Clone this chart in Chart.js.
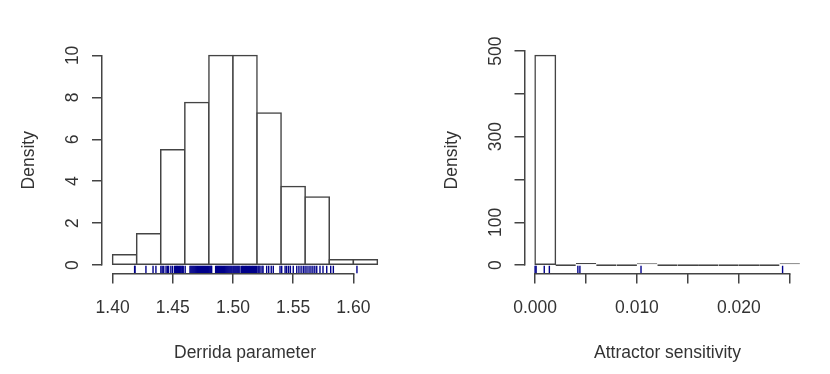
<!DOCTYPE html>
<html><head><meta charset="utf-8">
<script src="https://cdn.jsdelivr.net/npm/chart.js@4.4.1/dist/chart.umd.min.js"></script>
<style>
html,body{margin:0;padding:0;background:#fff;}
#wrap{position:relative;width:830px;height:374px;overflow:hidden;background:#fff;}
canvas{position:absolute;top:0;}
</style></head><body>
<div id="wrap">
<canvas id="c1" width="415" height="374" style="left:0"></canvas>
<canvas id="c2" width="415" height="374" style="left:415px"></canvas>
</div>
<script>
// ---------- Left panel: Derrida parameter ----------
const derridaBinMids = [1.41, 1.43, 1.45, 1.47, 1.49, 1.51, 1.53, 1.55, 1.57, 1.59, 1.61];
const derridaDensity = [0.5, 1.5, 5.5, 7.75, 10, 10, 7.25, 3.75, 3.25, 0.25, 0.25];
const derridaRug = [
  1.4183, 1.4186, 1.4277, 1.4336, 1.4360, 1.4401, 1.4412, 1.4425, 1.4444, 1.4456, 1.4465, 1.4484, 1.4498,
  1.4515, 1.4523, 1.4531, 1.4538, 1.4546, 1.4555, 1.4562, 1.4570, 1.4579, 1.4587,
  1.4603,
  1.4643, 1.4651, 1.4659, 1.4667, 1.4675, 1.4683, 1.4691, 1.4699, 1.4707, 1.4715, 1.4723, 1.4731,
  1.4739, 1.4747, 1.4755, 1.4763, 1.4771, 1.4779, 1.4787, 1.4795, 1.4803, 1.4811, 1.4818, 1.4823,
  1.4856, 1.4864, 1.4872, 1.4880, 1.4888, 1.4896, 1.4904, 1.4912, 1.4920, 1.4928, 1.4936, 1.4944,
  1.4952, 1.4960, 1.4968, 1.4976, 1.4984, 1.4992, 1.5001, 1.5009, 1.5017, 1.5025, 1.5033, 1.5041,
  1.5049, 1.5058,
  1.5072, 1.5080, 1.5088, 1.5097, 1.5105, 1.5113, 1.5121, 1.5130, 1.5138, 1.5146, 1.5155, 1.5163,
  1.5171, 1.5180, 1.5188, 1.5197,
  1.5208, 1.5216, 1.5225, 1.5241, 1.5250,
  1.5280, 1.5297, 1.5318, 1.5335,
  1.5391, 1.5405, 1.5433, 1.5446, 1.5462, 1.5477, 1.5501,
  1.5530, 1.5548, 1.5566, 1.5584,
  1.5599, 1.5615, 1.5632, 1.5648, 1.5664, 1.5680, 1.5696,
  1.5723, 1.5748, 1.5779,
  1.5812, 1.5834,
  1.6030
];
const derridaXTicks = [1.40, 1.45, 1.50, 1.55, 1.60];
const derridaXLabels = ['1.40', '1.45', '1.50', '1.55', '1.60'];
const derridaYTicks = [0, 2, 4, 6, 8, 10];
const derridaYLabels = ['0', '2', '4', '6', '8', '10'];

// ---------- Right panel: Attractor sensitivity ----------
const sensBinMids = [0.001, 0.003, 0.005, 0.007, 0.009, 0.011, 0.013, 0.015, 0.017, 0.019, 0.021, 0.023, 0.025];
const sensDensity = [490, 0, 5, 0, 0, 2.5, 0, 0, 0, 0, 0, 0, 2.5];
const sensRug = [0.0000, 0.0001, 0.0009, 0.0014, 0.0042, 0.0044, 0.0104, 0.0243];
const sensXTicks = [0, 0.005, 0.010, 0.015, 0.020, 0.025];
const sensXLabels = ['0.000', '', '0.010', '', '0.020', ''];
const sensYTicks = [0, 100, 200, 300, 400, 500];
const sensYLabels = ['0', '100', '', '300', '', '500'];

const LINE = '#444444';
const LW = 1.5;
const RUG = '#00008B';
const TXT = '#333333';
const FONT = {family: "'Liberation Sans', Arial, sans-serif", size: 17.5};

const rAxes = {
  id: 'rAxes',
  afterDraw(chart) {
    const {ctx, chartArea, scales: {x, y}} = chart;
    const al = p => Math.round(p - LW / 2) + LW / 2;
    ctx.save();
    ctx.strokeStyle = LINE;
    ctx.lineWidth = LW;
    ctx.lineCap = 'square';
    ctx.beginPath();
    const yb = al(chartArea.bottom);
    ctx.moveTo(al(x.getPixelForValue(x.ticks[0].value)), yb);
    ctx.lineTo(al(x.getPixelForValue(x.ticks[x.ticks.length - 1].value)), yb);
    const xl = al(chartArea.left);
    ctx.moveTo(xl, al(y.getPixelForValue(y.ticks[0].value)));
    ctx.lineTo(xl, al(y.getPixelForValue(y.ticks[y.ticks.length - 1].value)));
    ctx.stroke();
    ctx.restore();
  }
};

// bars whose drawn height is tiny are drawn as solid lines (no inflation)
function barInflate(ctx) {
  if (!ctx.raw) return LW / 2;
  const ys = ctx.chart.scales.y;
  const h = Math.abs(ys.getPixelForValue(0) - ys.getPixelForValue(ctx.raw.y));
  return h < 2 * LW + 1 ? 0 : LW / 2;
}

function makeHist(id, c) {
  const W = 415, H = 374;
  const rugY = c.yMin + (c.yMax - c.yMin) * 0.017;
  return new Chart(document.getElementById(id), {
    type: 'bar',
    data: {
      datasets: [
        {
          type: 'bar',
          data: c.mids.map((m, i) => ({x: m, y: c.dens[i]})),
          backgroundColor: '#ffffff',
          borderColor: LINE,
          borderWidth: LW,
          borderSkipped: false,
          inflateAmount: barInflate,
          barPercentage: 1,
          categoryPercentage: 1,
          minBarLength: 1.8,
          grouped: false,
          order: 2
        },
        {
          type: 'scatter',
          data: c.rug.map(v => ({x: v, y: rugY})),
          pointStyle: 'line',
          rotation: 90,
          pointRadius: 3.9,
          pointHoverRadius: 3.9,
          borderColor: RUG,
          backgroundColor: RUG,
          borderWidth: 1.4,
          showLine: false,
          order: 1
        }
      ]
    },
    options: {
      responsive: false,
      animation: false,
      events: [],
      layout: {padding: {left: 0, right: W - c.area.right, top: c.area.top, bottom: 0}},
      plugins: {legend: {display: false}, tooltip: {enabled: false}},
      scales: {
        x: {
          type: 'linear', min: c.xMin, max: c.xMax, offset: false,
          afterBuildTicks: s => { s.ticks = c.xTicks.map(v => ({value: v})); },
          afterFit: s => { s.height = H - c.area.bottom; },
          grid: {drawOnChartArea: false, drawTicks: true, tickLength: 10, color: LINE, lineWidth: LW, offset: false},
          border: {display: false},
          ticks: {autoSkip: false, minRotation: 0, maxRotation: 0, padding: 14, font: FONT, color: TXT,
                  callback: (v, i) => c.xLabels[i]},
          title: {display: true, text: c.xTitle, font: FONT, color: TXT, padding: {top: 0, bottom: 10.5}}
        },
        y: {
          type: 'linear', min: c.yMin, max: c.yMax,
          afterBuildTicks: s => { s.ticks = c.yTicks.map(v => ({value: v})); },
          afterFit: s => { s.width = c.area.left; },
          grid: {drawOnChartArea: false, drawTicks: true, tickLength: 10, color: LINE, lineWidth: LW},
          border: {display: false},
          ticks: {autoSkip: false, minRotation: 90, maxRotation: 90, crossAlign: 'center', padding: c.yTickPad,
                  font: FONT, color: TXT, callback: (v, i) => c.yLabels[i]},
          title: {display: true, text: 'Density', font: FONT, color: TXT, padding: {top: c.yTitlePad, bottom: 0}}
        }
      }
    },
    plugins: [rAxes]
  });
}

makeHist('c1', {
  mids: derridaBinMids, dens: derridaDensity, rug: derridaRug,
  xMin: 1.3912, xMax: 1.6288, yMin: -0.4, yMax: 10.4,
  xTicks: derridaXTicks, xLabels: derridaXLabels, yTicks: derridaYTicks, yLabels: derridaYLabels,
  xTitle: 'Derrida parameter',
  area: {left: 102, right: 388, top: 47, bottom: 273.5},
  yTickPad: 9.5, yTitlePad: 18.5
});

makeHist('c2', {
  mids: sensBinMids, dens: sensDensity, rug: sensRug,
  xMin: -0.00104, xMax: 0.02704, yMin: -19.6, yMax: 509.6,
  xTicks: sensXTicks, xLabels: sensXLabels, yTicks: sensYTicks, yLabels: sensYLabels,
  xTitle: 'Attractor sensitivity',
  area: {left: 109.5, right: 395.5, top: 47, bottom: 273.5},
  yTickPad: 4.2, yTitlePad: 26.5
});
</script>
</body></html>
